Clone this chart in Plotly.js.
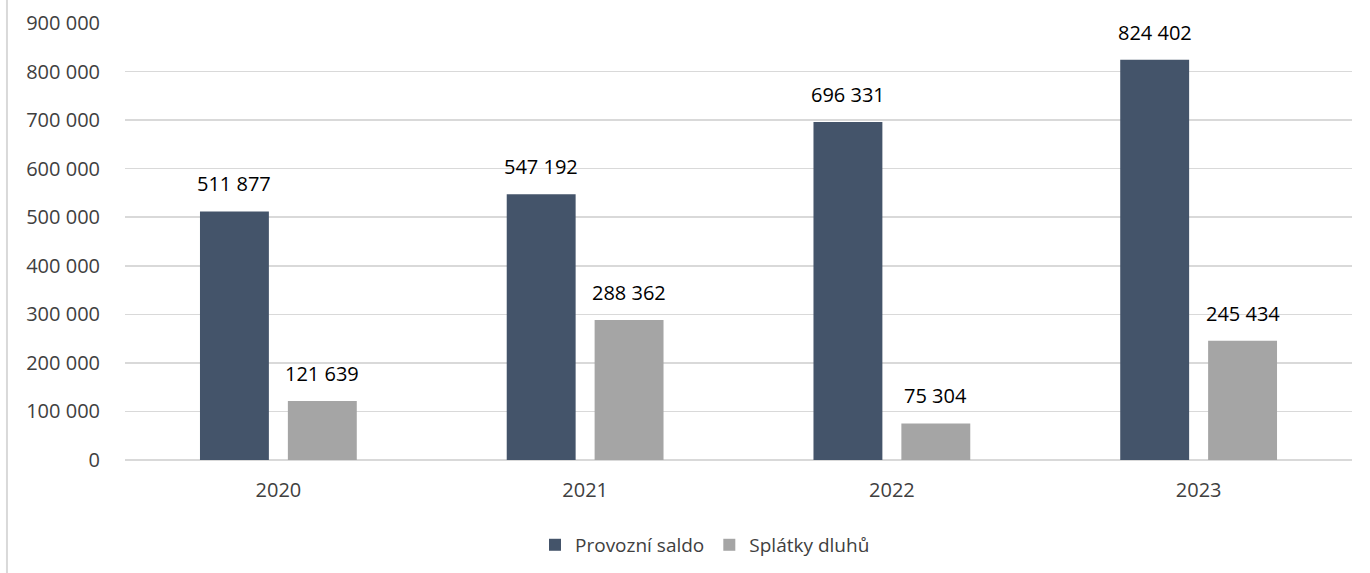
<!DOCTYPE html>
<html>
<head>
<meta charset="utf-8">
<script src="https://cdn.plot.ly/plotly-3.0.1.min.js"></script>
<style>html,body{margin:0;padding:0;background:#fff;}#chart{width:1370px;height:573px;}</style>
</head>
<body>
<div id="chart"></div>
<script>
const years = ["2020", "2021", "2022", "2023"];
const provozniSaldo = [511877, 547192, 696331, 824402];
const splatkyDluhu = [121639, 288362, 75304, 245434];
const yTicks = [0, 100000, 200000, 300000, 400000, 500000, 600000, 700000, 800000, 900000];

const font = "Open Sans, Noto Sans, sans-serif";
const labelFont = {family: font, size: 20, color: "#000000"};
const fmt = v => Math.round(v).toString().replace(/\B(?=(\d{3})+(?!\d))/g, " ");

const traces = [
  {type: "bar", name: "Provozní saldo", x: years, y: provozniSaldo,
   marker: {color: "#44546a"}, hoverinfo: "none"},
  {type: "bar", name: "Splátky dluhů", x: years, y: splatkyDluhu,
   marker: {color: "#a5a5a5"}, hoverinfo: "none"}
];

const annotations = [];
[[provozniSaldo, -44], [splatkyDluhu, 44]].forEach(([vals, dx]) => {
  years.forEach((yr, i) => {
    annotations.push({x: i, y: vals[i], xref: "x", yref: "y", text: fmt(vals[i]),
      showarrow: false, xanchor: "center", yanchor: "bottom", xshift: dx, yshift: 12,
      font: labelFont});
  });
});

const layout = {
  width: 1370, height: 573,
  margin: {l: 125, r: 18, t: 23, b: 113},
  paper_bgcolor: "#ffffff", plot_bgcolor: "#ffffff",
  separators: ", ",
  barmode: "group", bargap: 0.427, bargroupgap: 0.216,
  font: {family: font, color: "#404040", size: 20},
  xaxis: {type: "category", categoryorder: "array", categoryarray: years,
    range: [-0.5, years.length - 0.5], showgrid: false, showline: false, ticks: "",
    tickfont: {family: font, size: 20, color: "#404040"}, ticklabelstandoff: 16},
  yaxis: {range: [0, 900000], tickvals: yTicks, tickformat: ",d",
    showgrid: true, gridcolor: "#d9d9d9", gridwidth: 1.5,
    zeroline: true, zerolinecolor: "#d9d9d9", zerolinewidth: 1.5,
    showline: false, ticks: "", ticklabelstandoff: 24,
    tickfont: {family: font, size: 20, color: "#404040"}},
  showlegend: true,
  legend: {orientation: "h", xref: "container", yref: "container",
    x: 0.5146, xanchor: "center", y: 0.049, yanchor: "middle",
    font: {family: font, size: 19, color: "#404040"}, itemwidth: 30, tracegroupgap: 0},
  annotations: annotations,
  shapes: [{type: "line", xref: "paper", yref: "paper", x0: -0.0962, x1: -0.0962,
    y0: -0.26, y1: 1.06, line: {color: "#d9d9d9", width: 2}}]
};

Plotly.newPlot("chart", traces, layout, {displayModeBar: false, staticPlot: true});
</script>
</body>
</html>
